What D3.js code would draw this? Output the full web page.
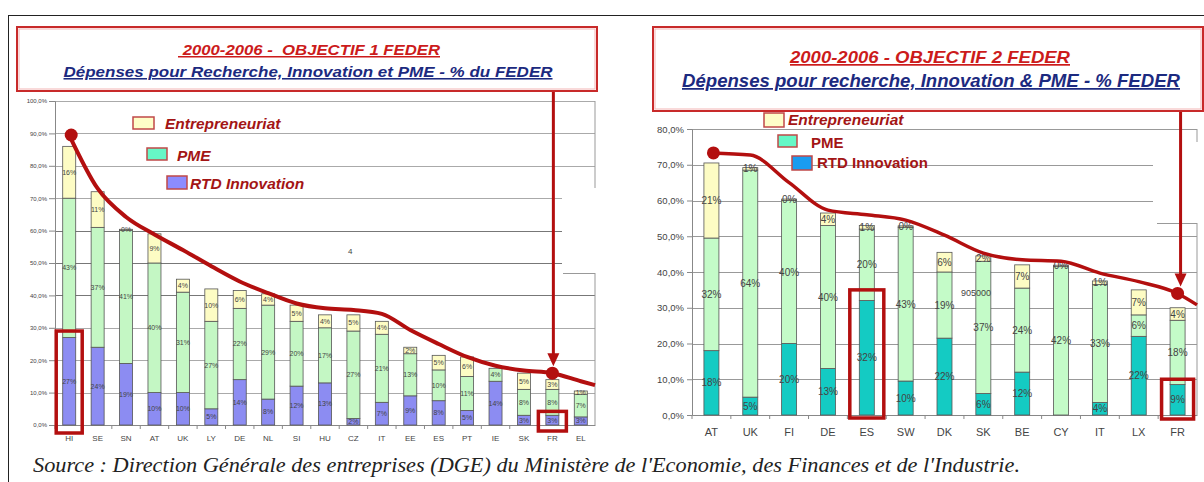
<!DOCTYPE html>
<html><head><meta charset="utf-8">
<script src="https://cdn.jsdelivr.net/npm/d3@7"></script>
<style>body{margin:0;background:#fff}svg{display:block;font-family:"Liberation Sans",Arial,sans-serif}</style>
</head><body><svg id="c" width="1204" height="482"></svg>
<script>
// ---------- DATA ----------
const leftCats   = ["HI","SE","SN","AT","UK","LY","DE","NL","SI","HU","CZ","IT","EE","ES","PT","IE","SK","FR","EL"];
const leftRTD    = [27, 24, 19, 10, 10, 5, 14, 8, 12, 13, 2, 7, 9, 7.5, 4.5, 13.5, 3, 3, 2.5];
const leftPME    = [43, 37, 41, 40, 31, 27, 22, 29, 20, 17, 27, 21, 13, 9.5, 10.5, 4, 8, 8, 7];
const leftEntre  = [16, 11, 0.4, 9, 4, 10, 5.5, 3.5, 5, 4, 5, 4, 2, 4.5, 6, 0, 5, 3, 1];
const leftCurve  = [89.5, 73, 64.2, 58.8, 54, 49, 44.3, 40.7, 37.5, 36, 35.5, 34.3, 29.3, 25, 21, 18.3, 16.8, 16, 13.5];
const leftCurveEnd = 12.3;
const leftTicks  = [0,10,20,30,40,50,60,70,80,90,100];

const rightCats  = ["AT","UK","FI","DE","ES","SW","DK","SK","BE","CY","IT","LX","FR"];
const rightRTD   = [18, 5, 20, 13, 32, 9.5, 21.5, 6, 12, 0, 3.5, 22, 8.5];
const rightPME   = [31.5, 63.5, 40, 40, 20, 43, 18.5, 37, 23.5, 41.5, 33, 6, 18];
const rightEntre = [21, 0.7, 0.4, 3.5, 1, 0.4, 5.5, 1.5, 6.5, 0.4, 1, 7, 3.5];
const rightCurve = [73.3, 72.7, 65, 57.3, 56, 54.5, 50.3, 45.3, 43.4, 43, 39.7, 37.3, 34];
const rightCurveEnd = 30.8;
const rightTicks = [0,10,20,30,40,50,60,70,80];

const seriesNames = ["Entrepreneuriat","PME","RTD Innovation"];

// ---------- DRAW ----------
const svg = d3.select("#c");
const RED = "#b30f0f";
const fmt = v => d3.format(".1f")(v).replace(".", ",") + "%";

// outer frame
svg.append("line").attr("x1",8).attr("x2",1204).attr("y1",15.5).attr("y2",15.5).attr("stroke","#222");
svg.append("line").attr("x1",8.5).attr("x2",8.5).attr("y1",15).attr("y2",482).attr("stroke","#222");

function chart(o){
  const g = svg.append("g");
  const x = d3.scaleBand().domain(o.cats).range(o.xr);
  const y = d3.scaleLinear().domain([0, o.ticks[o.ticks.length-1]]).range(o.yr);
  const bw = x.bandwidth();
  // gridlines
  o.ticks.forEach(t=>{
    if (t===0) return;
    const xe = o.gridEnd(t);
    g.append("line").attr("x1",o.xr[0]).attr("x2",xe).attr("y1",Math.round(y(t))+0.5).attr("y2",Math.round(y(t))+0.5)
      .attr("stroke",o.gridColor(t)).attr("stroke-width",1);
  });
  o.extraLines.forEach(l=>g.append("line").attr("x1",l[0]).attr("y1",l[1]).attr("x2",l[2]).attr("y2",l[3]).attr("stroke","#999"));
  // y axis
  const ya = d3.axisLeft(y).tickValues(o.ticks).tickFormat(fmt).tickSize(o.tick).tickPadding(o.tickPad);
  const yg = g.append("g").attr("transform",`translate(${o.xr[0]},0)`).call(ya);
  yg.selectAll("text").attr("font-size",o.yFont).attr("fill","#444");
  yg.selectAll("line,path").attr("stroke","#888");
  // x axis
  const xa = d3.axisBottom(x).tickSize(0).tickPadding(o.xPad);
  const xg = g.append("g").attr("transform",`translate(0,${o.yr[0]})`).call(xa);
  xg.selectAll("text").attr("font-size",o.xFont).attr("fill","#444");
  xg.select("path").attr("stroke","#888");
  o.cats.forEach((c,i)=>{
    const xx = x(c)+bw;
    if (i < o.cats.length-1) g.append("line").attr("x1",xx).attr("x2",xx).attr("y1",o.yr[0]).attr("y2",o.yr[0]+4).attr("stroke","#888");
  });
  g.append("line").attr("x1",o.xr[0]).attr("x2",o.xr[0]).attr("y1",o.yr[0]).attr("y2",o.yr[0]+4).attr("stroke","#888");
  // stacked bars
  const rows = o.cats.map((c,i)=>({c, RTD:o.rtd[i], PME:o.pme[i], Entre:o.entre[i]}));
  const stack = d3.stack().keys(["RTD","PME","Entre"])(rows);
  const cols = {RTD:o.cRTD, PME:o.cPME, Entre:o.cEntre};
  stack.forEach(s=>{
    s.forEach(d=>{
      const v = d[1]-d[0];
      if (v<=0) return;
      const bx = x(d.data.c)+(bw-o.barW)/2;
      g.append("rect").attr("x",bx).attr("y",y(d[1])).attr("width",o.barW).attr("height",y(d[0])-y(d[1]))
        .attr("fill",cols[s.key]).attr("stroke","#555").attr("stroke-width",0.8);
    });
  });
  stack.forEach(s=>{
    s.forEach(d=>{
      const v = d[1]-d[0];
      if (v<=0) return;
      g.append("text").attr("x",x(d.data.c)+bw/2).attr("y",(y(d[0])+y(d[1]))/2).attr("dy","0.35em")
        .attr("text-anchor","middle").attr("font-size",o.labFont).attr("fill","#444").text(Math.round(v)+"%");
    });
  });
  // curve
  const pts = o.curve.map((v,i)=>[x(o.cats[i])+bw/2, y(v)]);
  pts.push([o.xr[1], y(o.curveEnd)]);
  g.append("path").attr("d",d3.line().curve(d3.curveMonotoneX)(pts)).attr("fill","none").attr("stroke",RED).attr("stroke-width",o.curveW);
  g.append("circle").attr("cx",pts[0][0]+2).attr("cy",pts[0][1]).attr("r",6.5).attr("fill",RED);
  const fx = x("FR")+bw/2, fy = y(o.curve[o.cats.indexOf("FR")]);
  g.append("circle").attr("cx",fx).attr("cy",fy).attr("r",6.5).attr("fill",RED);
  // arrow
  g.append("line").attr("x1",fx+o.arrowDx).attr("x2",fx+o.arrowDx).attr("y1",o.titleBox[1]+o.titleBox[3]).attr("y2",fy-16).attr("stroke",RED).attr("stroke-width",3);
  g.append("path").attr("d",`M${fx+o.arrowDx-6},${fy-20}L${fx+o.arrowDx+6},${fy-20}L${fx+o.arrowDx},${fy-7}Z`).attr("fill",RED);
  // highlight boxes
  o.boxes.forEach(b=>{
    const bx = x(b.c)+bw/2;
    g.append("rect").attr("x",bx-b.w/2).attr("y",y(b.top)).attr("width",b.w).attr("height",y(0)-y(b.top)+b.below)
      .attr("fill","none").attr("stroke",RED).attr("stroke-width",3.5);
  });
  // legend
  o.legend.forEach((l,i)=>{
    g.append("rect").attr("x",l.sx).attr("y",l.sy).attr("width",l.sw).attr("height",l.sh).attr("fill",l.fill).attr("stroke","#c04848").attr("stroke-width",1.5);
    g.append("text").attr("x",l.tx).attr("y",l.ty).attr("font-size",l.fs).attr("font-weight","bold").attr("font-style",l.it?"italic":"normal")
      .attr("fill","#a31515").text(seriesNames[i]);
  });
  // title box
  const tb = o.titleBox;
  g.append("rect").attr("x",tb[0]).attr("y",tb[1]).attr("width",tb[2]).attr("height",tb[3]).attr("fill","#fff").attr("stroke","#c82a2a").attr("stroke-width",2);
  g.append("rect").attr("x",tb[0]+2).attr("y",tb[1]+2).attr("width",tb[2]-4).attr("height",tb[3]-4).attr("fill","none").attr("stroke","#f3b5b5").attr("stroke-width",1);
  o.titles.forEach(t=>{
    g.append("text").attr("x",t.x).attr("y",t.y).attr("text-anchor","middle").attr("font-size",t.fs).attr("font-weight","bold")
      .attr("font-style","italic").attr("text-decoration","underline").attr("fill",t.fill).style("white-space","pre")
      .attr("textLength",t.len).attr("lengthAdjust","spacingAndGlyphs").text(t.s);
  });
  o.notes.forEach(n=>g.append("text").attr("x",n.x).attr("y",n.y).attr("font-size",n.fs).attr("fill","#444").text(n.s));
  return g;
}

chart({
  cats:leftCats, rtd:leftRTD, pme:leftPME, entre:leftEntre, curve:leftCurve, curveEnd:leftCurveEnd, ticks:leftTicks,
  xr:[55,595], yr:[425,101], barW:13, tick:6, tickPad:2, yFont:6, xFont:8, xPad:10, labFont:7, curveW:4,
  cRTD:"#8c8cf2", cPME:"#c4f7c4", cEntre:"#fdfcc4", arrowDx:1,
  gridEnd:t=> (t>=50 && t<=70) ? 562 : 595,
  gridColor:t=> (t>=40 && t<=60) ? "#777" : "#aaa",
  extraLines:[[595,101,595,188],[563,273.5,595,273.5],[595,273,595,425]],
  boxes:[{c:"HI",w:26,top:29,below:8},{c:"FR",w:28,top:4.2,below:6}],
  legend:[
    {sx:133,sy:117,sw:21,sh:12,fill:"#fefec8",tx:165,ty:129,fs:15.5,it:true},
    {sx:147,sy:148,sw:20,sh:12,fill:"#66f7c6",tx:177,ty:161,fs:15.5,it:true},
    {sx:167,sy:176,sw:20,sh:13,fill:"#8c8cff",tx:190,ty:189,fs:15.5,it:true}
  ],
  titleBox:[17,27,580,64],
  titles:[{s:" 2000-2006 -  OBJECTIF 1 FEDER",x:309,y:55,fs:15,fill:"#cc1b1b",len:262},
          {s:"Dépenses pour Recherche, Innovation et PME - % du FEDER",x:308,y:77,fs:15.5,fill:"#1c2a80",len:489}],
  notes:[{s:"4",x:348,y:254,fs:8}]
});

chart({
  cats:rightCats, rtd:rightRTD, pme:rightPME, entre:rightEntre, curve:rightCurve, curveEnd:rightCurveEnd, ticks:rightTicks,
  xr:[692,1197], yr:[415,129], barW:15, tick:5, tickPad:3, yFont:9.5, xFont:11, xPad:13, labFont:10, curveW:3.5,
  cRTD:"#14cbc3", cPME:"#c4fbc8", cEntre:"#fdfcc4", arrowDx:3,
  gridEnd:t=> (t===60 || t===70) ? 1153 : 1197,
  gridColor:t=> "#999",
  extraLines:[[1197,129,1197,142],[1157,223.5,1197,223.5],[1197,223,1197,415]],
  boxes:[{c:"ES",w:34,top:35,below:3},{c:"FR",w:32,top:10,below:4}],
  legend:[
    {sx:764,sy:113,sw:20,sh:14,fill:"#fefec8",tx:788,ty:125,fs:15.5,it:true},
    {sx:778,sy:135,sw:19,sh:12,fill:"#66f7c6",tx:811,ty:148,fs:15,it:false},
    {sx:792,sy:156,sw:20,sh:14,fill:"#1a9cf0",tx:817,ty:168,fs:15,it:false}
  ],
  titleBox:[653,27,550,84],
  titles:[{s:"2000-2006 - OBJECTIF 2 FEDER",x:930,y:63,fs:17,fill:"#cc1b1b",len:280},
          {s:"Dépenses pour recherche, Innovation & PME - % FEDER",x:931,y:87,fs:17.5,fill:"#1c2a80",len:498}],
  notes:[{s:"905000",x:961,y:296,fs:9}]
});

svg.append("text").attr("x",33).attr("y",472).attr("font-family","'Liberation Serif','Times New Roman',serif")
  .attr("font-style","italic").attr("font-size",20).attr("fill","#222")
  .attr("textLength",987).attr("lengthAdjust","spacingAndGlyphs")
  .text("Source : Direction Générale des entreprises (DGE) du Ministère de l'Economie, des Finances et de l'Industrie.");
</script></body></html>
